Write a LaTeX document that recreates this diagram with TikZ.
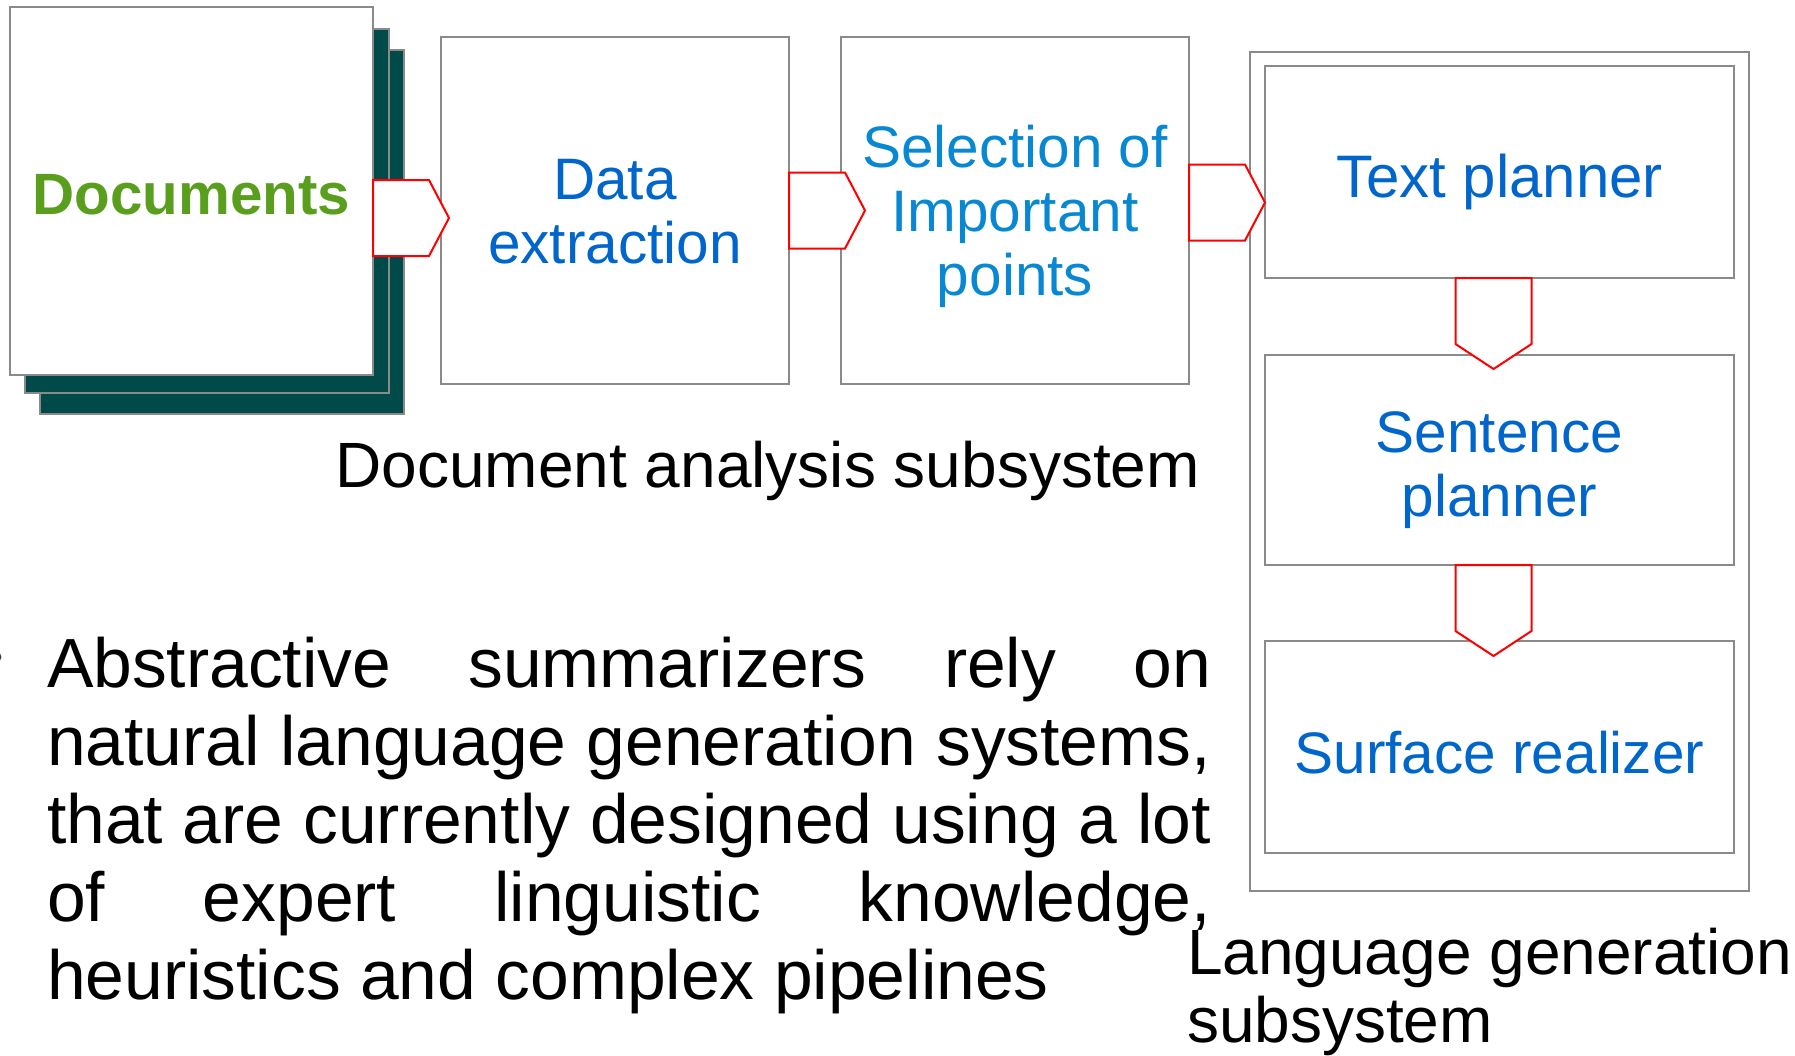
\documentclass[tikz,border=0pt]{standalone}
\usepackage{fontspec}
\setmainfont{Liberation Sans}
\usetikzlibrary{calc}

\definecolor{framegray}{HTML}{8A8A8A}
\definecolor{pageteal}{HTML}{004B4A}
\definecolor{stepblue}{HTML}{0066CC}
\definecolor{selblue}{HTML}{0888D2}
\definecolor{docgreen}{HTML}{5A9E1E}
\definecolor{flowred}{HTML}{FF0000}

% block arrow pointing right; argument = middle of its flat left side
\newcommand{\rightblock}[1]{%
  \draw[blockarrow] (#1) ++(0,-38) -- ++(56,0) -- ++(20,38) -- ++(-20,38) -- ++(-56,0) -- cycle;}
% block arrow pointing down; argument = middle of its flat top side
\newcommand{\downblock}[1]{%
  \draw[blockarrow] (#1) ++(-38,0) -- ++(76,0) -- ++(0,66) -- ++(-38,25) -- ++(-38,-25) -- cycle;}

\begin{document}
\begin{tikzpicture}[x=1pt,y=-1pt,
  box/.style={draw=framegray, line width=1.8pt, fill=white, inner sep=0pt,
              outer sep=0pt, anchor=north west},
  page/.style={box, fill=pageteal},
  blockarrow/.style={draw=flowred, line width=2pt, fill=white, line join=miter},
  steptext/.style={font=\fontsize{58.5pt}{64pt}\selectfont, text=stepblue,
                   align=center, inner sep=0pt},
  captext/.style={font=\fontsize{64pt}{68pt}\selectfont, inner sep=0pt, outer sep=0pt},
  bodytext/.style={font=\fontsize{69.6pt}{78pt}\selectfont, inner sep=0pt,
                   outer sep=0pt, align=left}
]
\useasboundingbox (0,0) rectangle (1795,1055);

% stack of documents
\node[page, minimum width=364pt, minimum height=364pt] (docC) at (40,50) {};
\node[page, minimum width=364pt, minimum height=364pt] (docB) at (25,29) {};
\node[box,  minimum width=363pt, minimum height=368pt] (docA) at (10,7) {};
\node[steptext, text=docgreen, font=\fontsize{58.3pt}{64pt}\selectfont\bfseries]
  (docT) at ($(docA.center)+(0,4)$) {Documents};

% document analysis steps
\node[box, minimum width=348pt, minimum height=347pt] (data) at (441,37) {};
\node[steptext] (dataT) at ($(data.center)+(0,1)$) {Data\\extraction};
\node[box, minimum width=348pt, minimum height=347pt] (sel) at (841,37) {};
\node[steptext, text=selblue] (selT) at ($(sel.center)+(0,6)$) {Selection of\\Important\\points};

% language generation subsystem
\node[box, minimum width=499pt, minimum height=839pt] (lgs) at (1250,52) {};
\node[box, minimum width=469pt, minimum height=212pt] (tp) at (1265,66) {};
\node[steptext, font=\fontsize{60pt}{64pt}\selectfont] (tpT) at ($(tp.center)+(0,10)$) {Text planner};
\node[box, minimum width=469pt, minimum height=210pt] (sp) at (1265,355) {};
\node[steptext] (spT) at ($(sp.center)+(0,10.5)$) {Sentence\\planner};
\node[box, minimum width=469pt, minimum height=212pt] (sr) at (1265,641) {};
\node[steptext] (srT) at ($(sr.center)+(0,5.5)$) {Surface realizer};

% flow arrows
\rightblock{$(docA.east)+(0,27)$}
\rightblock{data.east}
\rightblock{$(sel.east)+(0,-8)$}
\downblock{$(tp.south)+(-6,0)$}
\downblock{$(sp.south)+(-6,0)$}

% captions
\node[captext, anchor=base west] (dacap) at (335.5,487.5) {Document analysis subsystem};
\node[captext, anchor=base west] (lgcap1) at (1187,974) {Language generation};
\node[captext, anchor=base west] (lgcap2) at (1187,1042) {subsystem};

% bullet text
\fill[black!75] (-4,657) circle (5.5);
\node[bodytext, anchor=north west] (body) at (47,637) {%
  \makebox[1164pt][s]{Abstractive summarizers rely on}\\
  \makebox[1164pt][s]{natural language generation systems,}\\
  \makebox[1164pt][s]{that are currently designed using a lot}\\
  \makebox[1164pt][s]{of expert linguistic knowledge,}\\
  heuristics and complex pipelines};
\end{tikzpicture}
\end{document}
